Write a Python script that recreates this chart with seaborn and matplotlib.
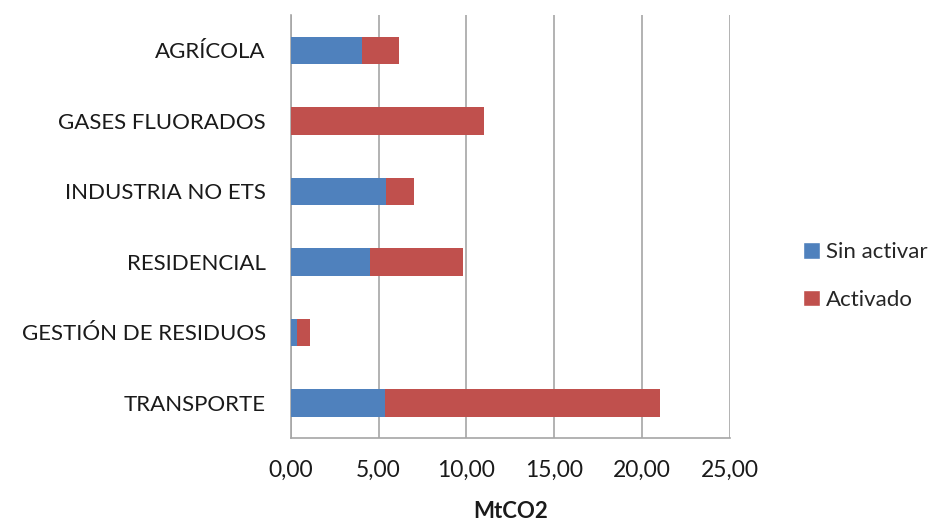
import matplotlib
matplotlib.use("Agg")
import matplotlib.pyplot as plt
from matplotlib.patches import Patch
from matplotlib.ticker import FuncFormatter
import seaborn as sns
import pandas as pd

# datos (MtCO2)
sectores = ["AGRÍCOLA", "GASES FLUORADOS", "INDUSTRIA NO ETS",
            "RESIDENCIAL", "GESTIÓN DE RESIDUOS", "TRANSPORTE"]
sin_activar = [4.03, 0.0, 5.44, 4.49, 0.38, 5.36]
activado = [2.13, 11.0, 1.60, 5.32, 0.74, 15.64]

AZUL = "#4F81BD"
ROJO = "#C0504D"
GRIS = "#A6A6A6"

df = pd.DataFrame({"sector": sectores, "sin": sin_activar, "act": activado})
df["total"] = df["sin"] + df["act"]

sns.set_style("white")
plt.rcParams["font.family"] = ["Lato", "DejaVu Sans"]

fig = plt.figure(figsize=(9.38, 5.24), dpi=100)
ax = fig.add_axes([0.310, 0.164, 0.468, 0.807])

# barras apiladas: total en rojo, parte "sin activar" encima en azul
sns.barplot(data=df, x="total", y="sector", color=ROJO, saturation=1,
            width=0.39, orient="h", ax=ax, zorder=3, linewidth=0)
sns.barplot(data=df, x="sin", y="sector", color=AZUL, saturation=1,
            width=0.39, orient="h", ax=ax, zorder=4, linewidth=0)

ax.set_xlim(0, 25)
ax.set_ylim(5.5, -0.5)
ax.set_xticks([0, 5, 10, 15, 20, 25])
ax.xaxis.set_major_formatter(FuncFormatter(lambda v, p: f"{v:.2f}".replace(".", ",")))
ax.grid(axis="x", color=GRIS, linewidth=1.2, zorder=0)
ax.set_axisbelow(True)

# marcas de categoría entre barras
ax.set_yticks([i - 0.5 for i in range(7)], minor=True)
ax.set_yticks(range(6))
ax.set_yticklabels(sectores)
ax.tick_params(axis="y", which="major", length=0, pad=18, labelsize=16, labelcolor="#1a1a1a")
ax.tick_params(axis="y", which="minor", length=6, width=1.2, color=GRIS, direction="out")
ax.tick_params(axis="x", length=6, width=1.2, color=GRIS, direction="out",
               labelsize=16.5, labelcolor="#1a1a1a", pad=10)

for s in ["top", "right"]:
    ax.spines[s].set_visible(False)
for s in ["left", "bottom"]:
    ax.spines[s].set_color(GRIS)
    ax.spines[s].set_linewidth(1.2)

ax.set_ylabel("")
ax.set_xlabel("MtCO2", fontsize=16, fontweight="bold", labelpad=14, color="#1a1a1a")

handles = [Patch(facecolor=AZUL, label="Sin activar"),
           Patch(facecolor=ROJO, label="Activado")]
fig.legend(handles=handles, loc="center left", bbox_to_anchor=(0.856, 0.473),
           frameon=False, fontsize=16, handlelength=0.75, handleheight=0.75,
           handletextpad=0.3, labelspacing=1.25, borderpad=0, borderaxespad=0)

fig.savefig("out.png", dpi=100)
